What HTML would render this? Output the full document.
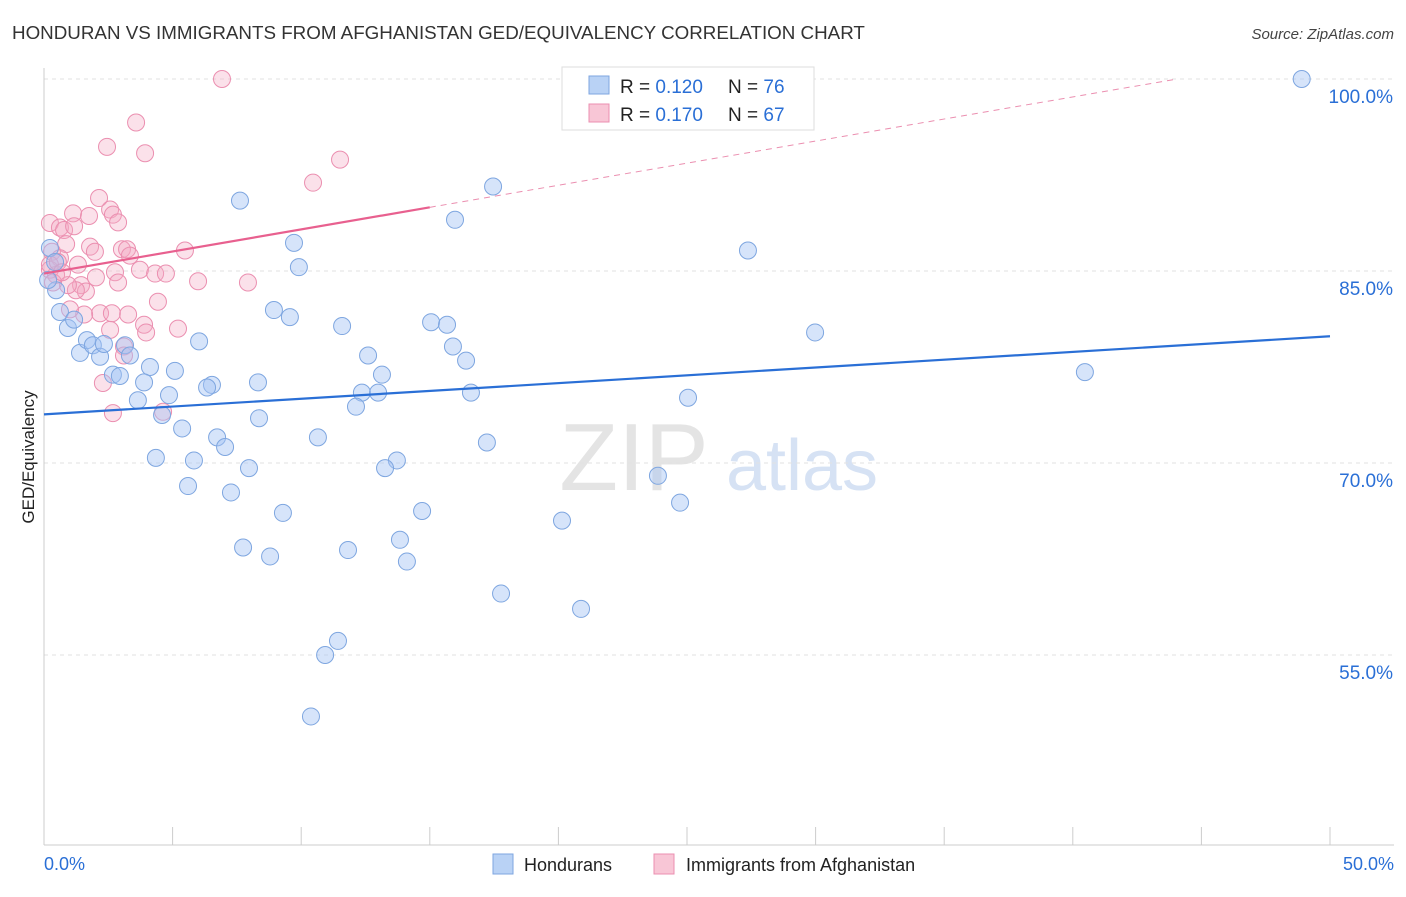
<!DOCTYPE html>
<html><head><meta charset="utf-8"><style>
body{margin:0;background:#fff;font-family:"Liberation Sans",sans-serif;}
svg text{font-family:"Liberation Sans",sans-serif;}
</style></head><body>
<svg id="chart" width="1406" height="892" viewBox="0 0 1406 892" xmlns="http://www.w3.org/2000/svg">
<text x="12" y="39" font-size="18.8" fill="#333">HONDURAN VS IMMIGRANTS FROM AFGHANISTAN GED/EQUIVALENCY CORRELATION CHART</text>
<text x="1394" y="39" font-size="15" fill="#444" text-anchor="end" font-style="italic">Source: ZipAtlas.com</text>
<g>
<text x="634" y="490" font-size="96" fill="#e4e4e4" text-anchor="middle" font-family="Liberation Serif,serif">ZIP</text>
<text x="802" y="490" font-size="72" fill="#d6e2f4" text-anchor="middle">atlas</text>
</g>
<g id="grid"></g>
<g id="axes"></g>
<g id="marks"></g>
<text transform="translate(34,457) rotate(-90)" font-size="17" fill="#222" text-anchor="middle">GED/Equivalency</text>
<g>
<rect x="562" y="67" width="252" height="63" fill="#fff" stroke="#ddd"/>
<rect x="589" y="76" width="20" height="18" fill="#b9d2f5" stroke="#7ea6e0"/>
<text x="620" y="93" font-size="19" fill="#222">R = <tspan fill="#2a6fd6">0.120</tspan></text>
<text x="728" y="93" font-size="19" fill="#222">N = <tspan fill="#2a6fd6">76</tspan></text>
<rect x="589" y="104" width="20" height="18" fill="#f8c6d6" stroke="#eb8fb0"/>
<text x="620" y="121" font-size="19" fill="#222">R = <tspan fill="#2a6fd6">0.170</tspan></text>
<text x="728" y="121" font-size="19" fill="#222">N = <tspan fill="#2a6fd6">67</tspan></text>
</g>
<g>
<rect x="493" y="854" width="20" height="20" fill="#b9d2f5" stroke="#7ea6e0"/>
<text x="524" y="871" font-size="18" fill="#222">Hondurans</text>
<rect x="654" y="854" width="20" height="20" fill="#f8c6d6" stroke="#eb8fb0"/>
<text x="686" y="871" font-size="18" fill="#222">Immigrants from Afghanistan</text>
</g>
</svg>
<script>
const blueX=[48.9,28.15,17.46,7.62,15.98,9.72,27.37,9.91,8.94,9.56,11.59,15.05,15.67,29.98,12.6,15.9,16.41,6.03,40.47,13.14,8.32,6.53,6.34,4.12,5.09,3.89,4.86,12.36,12.99,16.6,25.04,3.65,12.13,4.59,8.36,5.37,10.65,6.73,7.04,17.22,4.35,5.83,7.97,13.72,13.26,23.87,5.6,7.27,24.73,9.29,14.7,20.14,7.74,11.82,13.84,8.79,14.11,17.77,20.88,11.43,10.93,10.38,0.47,0.62,0.93,1.17,1.4,1.67,1.9,2.18,2.33,2.68,2.95,3.15,3.34,0.23,0.16,0.43];
const blueY=[100,100,91.6,90.5,89.0,87.2,86.6,85.3,81.95,81.4,80.7,81.0,80.8,80.2,78.4,79.1,78.0,79.5,77.1,76.9,76.3,76.1,75.9,77.5,77.2,76.3,75.3,75.5,75.5,75.5,75.1,74.9,74.4,73.75,73.5,72.7,72.0,72.0,71.25,71.6,70.4,70.2,69.6,70.2,69.6,69.0,68.2,67.7,66.9,66.1,66.25,65.5,63.4,63.2,64.0,62.7,62.3,59.8,58.6,56.1,55.0,50.2,83.5,81.8,80.55,81.2,78.6,79.6,79.2,78.3,79.3,76.9,76.8,79.2,78.4,86.8,84.3,85.7];
const pinkX=[6.92,3.58,2.45,3.93,11.51,10.46,2.14,0.23,1.13,0.62,1.75,2.57,2.68,2.88,0.78,1.17,0.31,0.86,1.79,1.98,3.03,3.23,5.48,3.34,0.62,1.32,3.73,4.32,4.74,0.23,0.47,2.02,2.76,2.88,5.99,7.93,1.44,1.63,1.24,0.93,0.35,4.43,2.18,1.56,1.01,2.64,3.27,2.57,3.89,3.97,5.21,3.11,3.11,2.29,2.68,4.63,0.23,0.54,0.7];
const pinkY=[100,96.6,94.7,94.2,93.7,91.9,90.7,88.75,89.5,88.4,89.3,89.8,89.4,88.8,88.2,88.5,86.5,87.1,86.9,86.5,86.7,86.7,86.6,86.2,86.0,85.5,85.1,84.8,84.8,85.1,84.7,84.5,84.9,84.1,84.2,84.1,83.9,83.4,83.5,83.9,84.1,82.6,81.7,81.6,82.0,81.7,81.6,80.4,80.8,80.2,80.5,79.1,78.4,76.25,73.9,74.0,85.5,85.7,84.9];
const blueTrend=[73.8,79.9];
const pinkTrend=[84.8,0.345];
const yTicks=[100,85,70,55];
const yTickLabels=["100.0%","85.0%","70.0%","55.0%"];
const xTicks=[0,5,10,15,20,25,30,35,40,45,50];

const NS="http://www.w3.org/2000/svg";
const X=v=>44+v*25.72;
const Y=v=>79+(100-v)*12.8;
function mk(tag,attrs,parent){const e=document.createElementNS(NS,tag);for(const k in attrs)e.setAttribute(k,attrs[k]);parent.appendChild(e);return e;}
const grid=document.getElementById('grid'),axes=document.getElementById('axes'),marks=document.getElementById('marks');
yTicks.forEach((t,i)=>{
 const l=mk('line',{x1:44,x2:1394,y1:Y(t),y2:Y(t),stroke:'#e2e2e2','stroke-dasharray':'4,4'},grid);
 
 
 const tx=mk('text',{x:1393,y:Y(t)+24,'font-size':19,fill:'#2a6fd6','text-anchor':'end'},axes);
 tx.textContent=yTickLabels[i];
 
 
});
const ya=mk('line',{x1:44,x2:44,y1:68,y2:845,stroke:'#ccc'},axes);


const xa=mk('line',{x1:44,x2:1394,y1:845,y2:845,stroke:'#ccc'},axes);


xTicks.forEach(t=>{
 const l=mk('line',{x1:X(t),x2:X(t),y1:827,y2:845,stroke:'#ccc'},axes);
 
 
});
const xl0=mk('text',{x:44,y:870,'font-size':18,fill:'#2a6fd6'},axes);xl0.textContent='0.0%';


const xl1=mk('text',{x:1394,y:870,'font-size':18,fill:'#2a6fd6','text-anchor':'end'},axes);xl1.textContent='50.0%';



pinkX.forEach((x,i)=>{
 const c=mk('circle',{cx:X(x),cy:Y(pinkY[i]),r:8.5,fill:'rgba(244,170,195,0.35)',stroke:'#eb8fb0','stroke-width':1},marks);
 
 
});
blueX.forEach((x,i)=>{
 const c=mk('circle',{cx:X(x),cy:Y(blueY[i]),r:8.5,fill:'rgba(164,196,244,0.45)',stroke:'#7ea6e0','stroke-width':1},marks);
 
 
});
const bl=mk('line',{x1:X(0),y1:Y(blueTrend[0]),x2:X(50),y2:Y(blueTrend[1]),stroke:'#2a6fd6','stroke-width':2.2},marks);


const pEnd=(100-pinkTrend[0])/pinkTrend[1];
const pl=mk('line',{x1:X(0),y1:Y(pinkTrend[0]),x2:X(15),y2:Y(pinkTrend[0]+15*pinkTrend[1]),stroke:'#e8608f','stroke-width':2.2},marks);


const pd=mk('line',{x1:X(15),y1:Y(pinkTrend[0]+15*pinkTrend[1]),x2:X(pEnd),y2:Y(100),stroke:'#eb8fb0','stroke-width':1,'stroke-dasharray':'6,5'},marks);


</script>
</body></html>
